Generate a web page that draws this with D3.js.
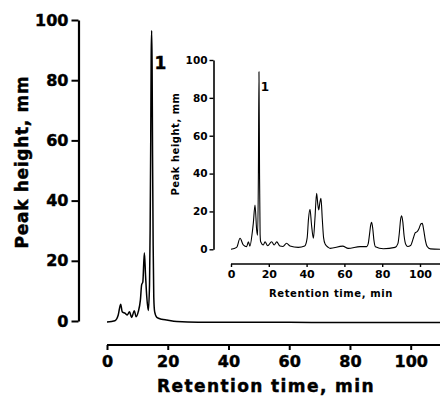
<!DOCTYPE html>
<html>
<head>
<meta charset="utf-8">
<script src="https://cdn.jsdelivr.net/npm/d3@7"></script>
<style>
  html, body { margin: 0; padding: 0; background: #fff; }
  svg { display: block; }
  text { font-family: "DejaVu Sans", sans-serif; font-weight: bold; fill: #000; }
  .heavy { stroke: #000; stroke-width: 0.45px; }
</style>
</head>
<body>
<svg id="chart" width="440" height="399"></svg>
<script>
// ---- data ----
const tickValues = [0, 20, 40, 60, 80, 100];
const xLabel = "Retention time, min";
const yLabel = "Peak height, mm";
const peakLabel = "1";
const peakLabelPos = [17.6, 83.7];      // main label (time, height)
const insetPeakLabelPos = [18, 83.5];   // inset label (time, height)

const mainTime  = [0, 2.6, 3.7, 4.5, 5.0, 5.9, 6.7, 7.4, 8.1, 9.0, 9.6, 10.3, 11.0, 11.4, 11.8, 12.3, 12.7, 13.1, 13.6, 14.0, 14.2, 14.4, 14.55, 14.7, 14.85, 15.0, 15.2, 15.4, 15.7, 16.4, 18, 19.7, 23, 30, 50, 70, 90, 111];
const mainValue = [-0.3, 0.1, 2, 5.6, 3.1, 2.6, 2.0, 3.1, 1.2, 3.4, 1.4, 3.1, 7, 12, 13, 22.7, 15, 8, 3.5, 12, 30, 60, 88, 96.5, 85, 55, 25, 8, 3, 1.2, 0.6, 0.3, -0.2, -0.4, -0.4, -0.5, -0.5, -0.5];

const insetTime  = [0, 3, 4.8, 6.5, 8.3, 9.2, 10, 11.3, 11.8, 12.7, 13.6, 14.1, 14.5, 14.8, 15.1, 15.4, 15.7, 17.1, 18, 19.4, 21.5, 22.8, 24.2, 25.9, 27.5, 29.4, 31.2, 35.6, 39, 40.3, 41.0, 41.8, 42.6, 43.6, 44.4, 45.3, 45.9, 46.4, 47.0, 47.6, 48.3, 49.0, 49.8, 51.5, 52.4, 59.1, 62, 68.3, 71.8, 72.6, 73.3, 73.9, 74.4, 75.0, 75.6, 76.4, 80.6, 86.8, 88.3, 89.1, 89.7, 90.3, 90.9, 91.6, 92.5, 93.5, 95, 96.5, 97.5, 98.5, 99.5, 100.5, 101.2, 102, 102.8, 103.8, 105.5, 111];
const insetValue = [0, 1, 5.8, 2.3, 1.4, 4, 1.7, 9.3, 13.7, 23.4, 10, 7.5, 40, 93.8, 40, 8, 4, 2.3, 4, 1.9, 4, 2.3, 3.9, 1.7, 1.5, 3.2, 1.7, 1, 1.7, 6, 16, 21.1, 13, 5.8, 16, 29.6, 24, 20.8, 24.5, 26.9, 16, 6, 2.8, 1, 0.5, 1.7, 0.5, 1.4, 1.4, 3, 8, 12.8, 14.3, 11, 5, 1.4, 0.3, 1, 3, 9, 15.5, 17.7, 14.5, 7, 2.5, 1.5, 2, 6, 8.8, 9.3, 11, 13.5, 13.7, 10, 5, 1.5, 0.2, 0];

const mainSeries = mainTime.map((t, i) => ({ t, v: mainValue[i] }));
const insetSeries = insetTime.map((t, i) => ({ t, v: insetValue[i] }));

const svg = d3.select("#chart");

// ---- main chart ----
const xMain = d3.scaleLinear().domain([0, 100]).range([107, 410.7]);
const yMain = d3.scaleLinear().domain([0, 100]).range([321, 20]);

// y axis
const gyMain = svg.append("g").attr("transform", "translate(78.5,0)")
  .call(d3.axisLeft(yMain).tickValues(tickValues).tickSize(7).tickSizeOuter(0).tickPadding(3));
gyMain.select(".domain").attr("stroke", "#000").attr("stroke-width", 2.2);
gyMain.selectAll(".tick line").attr("stroke", "#000").attr("stroke-width", 2);
gyMain.selectAll(".tick text").style("font-size", "16px").attr("font-family", null).attr("class", "heavy");

// x axis (detached, extends to right edge)
const gxMain = svg.append("g").attr("transform", "translate(0,345)")
  .call(d3.axisBottom(xMain).tickValues(tickValues).tickSize(5).tickSizeOuter(0).tickPadding(6));
gxMain.select(".domain").remove();
gxMain.append("line").attr("x1", xMain(0)).attr("x2", xMain(111))
  .attr("stroke", "#000").attr("stroke-width", 2.2);
gxMain.selectAll(".tick line").attr("stroke", "#000").attr("stroke-width", 2);
gxMain.selectAll(".tick text").style("font-size", "16px").attr("font-family", null).attr("class", "heavy");

// titles
svg.append("text").attr("class", "heavy").attr("x", 266).attr("y", 392).attr("text-anchor", "middle")
  .style("font-size", "17px").style("letter-spacing", "1.4px").text(xLabel);
svg.append("text").attr("class", "heavy").attr("transform", "translate(28,162) rotate(-90)").attr("text-anchor", "middle")
  .style("font-size", "17px").style("letter-spacing", "0.7px").text(yLabel);

// trace
const lineMain = d3.line().x(d => xMain(d.t)).y(d => yMain(d.v)).curve(d3.curveMonotoneX);
svg.append("path").datum(mainSeries).attr("d", lineMain)
  .attr("fill", "none").attr("stroke", "#000").attr("stroke-width", 1.5).attr("stroke-linejoin", "round");

svg.append("text").attr("class", "heavy").attr("x", xMain(peakLabelPos[0])).attr("y", yMain(peakLabelPos[1]))
  .attr("text-anchor", "middle").style("font-size", "17px").text(peakLabel);

// ---- inset ----
const xIn = d3.scaleLinear().domain([0, 100]).range([231, 420]);
const yIn = d3.scaleLinear().domain([0, 100]).range([249.3, 60]);

const gyIn = svg.append("g").attr("transform", "translate(213.5,0)")
  .call(d3.axisLeft(yIn).tickValues(tickValues).tickSize(4).tickSizeOuter(0).tickPadding(2));
gyIn.select(".domain").attr("stroke", "#000").attr("stroke-width", 1.6);
gyIn.selectAll(".tick line").attr("stroke", "#000").attr("stroke-width", 1.4);
gyIn.selectAll(".tick text").style("font-size", "10.5px").attr("font-family", null);

const gxIn = svg.append("g").attr("transform", "translate(0,264)")
  .call(d3.axisBottom(xIn).tickValues(tickValues).tickSize(3).tickSizeOuter(0).tickPadding(3));
gxIn.select(".domain").remove();
gxIn.append("line").attr("x1", xIn(0)).attr("x2", xIn(111))
  .attr("stroke", "#000").attr("stroke-width", 1.6);
gxIn.selectAll(".tick line").attr("stroke", "#000").attr("stroke-width", 1.4);
gxIn.selectAll(".tick text").style("font-size", "11px").attr("font-family", null);

svg.append("text").attr("x", 331).attr("y", 297).attr("text-anchor", "middle")
  .style("font-size", "10px").style("letter-spacing", "0.6px").text(xLabel);
svg.append("text").attr("transform", "translate(179,144) rotate(-90)").attr("text-anchor", "middle")
  .style("font-size", "10px").style("letter-spacing", "0.5px").text(yLabel);

const lineIn = d3.line().x(d => xIn(d.t)).y(d => yIn(d.v)).curve(d3.curveMonotoneX);
svg.append("path").datum(insetSeries).attr("d", lineIn)
  .attr("fill", "none").attr("stroke", "#000").attr("stroke-width", 1.1).attr("stroke-linejoin", "round");

svg.append("text").attr("x", xIn(insetPeakLabelPos[0])).attr("y", yIn(insetPeakLabelPos[1]))
  .attr("text-anchor", "middle").style("font-size", "12px").text(peakLabel);
</script>
</body>
</html>
